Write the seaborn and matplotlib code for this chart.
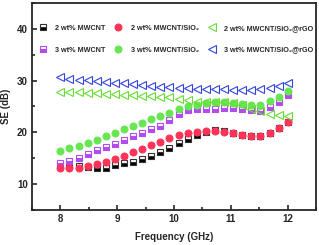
import matplotlib
matplotlib.use("Agg")
import matplotlib.pyplot as plt
import numpy as np
import pandas as pd
import seaborn as sns
from matplotlib.ticker import MultipleLocator

# frequency points (GHz)
freq = [8.00, 8.16, 8.32, 8.48, 8.64, 8.80, 8.96, 9.12, 9.28, 9.44, 9.60, 9.76, 9.92,
        10.08, 10.24, 10.40, 10.56, 10.72, 10.88, 11.04, 11.20, 11.36, 11.52, 11.68, 11.84, 12.00]

# SE values (dB)
mwcnt_2 = [13.9, 13.6, 13.45, 13.3, 13.2, 13.2, 13.6, 14.0, 14.35, 14.8, 15.35, 16.2, 16.9,
           17.9, 18.8, 19.5, 20.1, 20.4, 20.2, 19.8, 19.5, 19.3, 19.3, 19.8, 20.8, 21.9]
mwcnt_3 = [14.0, 14.4, 15.0, 15.8, 16.5, 17.1, 17.8, 18.5, 19.2, 19.9, 20.6, 21.3, 22.4,
           23.6, 24.3, 24.6, 24.6, 24.6, 24.65, 24.7, 24.6, 24.25, 24.1, 24.8, 25.9, 27.2]
sio2_2 = [13.1, 13.1, 13.2, 13.55, 13.9, 14.2, 14.85, 15.5, 16.15, 16.8, 17.6, 18.2, 18.9,
          19.4, 19.8, 20.1, 20.2, 20.2, 20.0, 19.8, 19.5, 19.25, 19.25, 19.9, 20.9, 22.0]
sio2_3 = [16.45, 16.9, 17.45, 18.0, 18.6, 19.25, 19.9, 20.55, 21.2, 21.85, 22.5, 23.1, 23.8,
          24.5, 25.0, 25.3, 25.6, 25.85, 25.9, 25.75, 25.55, 25.35, 25.35, 26.0, 26.85, 27.9]
rgo_2 = [27.8, 27.75, 27.7, 27.65, 27.6, 27.5, 27.4, 27.3, 27.2, 27.1, 27.0, 26.9, 26.8,
         26.5, 26.2, 25.9, 25.9, 25.9, 25.8, 25.6, 25.2, 24.6, 24.1, 23.6, 23.3, 23.2]
rgo_3 = [30.6, 30.4, 30.2, 30.1, 29.9, 29.75, 29.6, 29.45, 29.3, 29.15, 29.0, 28.85, 28.75,
         28.6, 28.5, 28.4, 28.35, 28.3, 28.3, 28.25, 28.2, 28.2, 28.3, 28.5, 28.9, 29.5]

labels = ["2 wt% MWCNT", "3 wt% MWCNT",
          "2 wt% MWCNT/SiO\u2082", "3 wt% MWCNT/SiO\u2082",
          "2 wt% MWCNT/SiO\u2082@rGO", "3 wt% MWCNT/SiO\u2082@rGO"]
series = [mwcnt_2, mwcnt_3, sio2_2, sio2_3, rgo_2, rgo_3]

styles = [
    dict(marker="s", color="black", fillstyle="bottom", markerfacecoloralt="white",
         markeredgecolor="#333333", markersize=4.5, markeredgewidth=0.8),
    dict(marker="s", color="#b04cf0", fillstyle="bottom", markerfacecoloralt="white",
         markeredgecolor="#b04cf0", markersize=4.5, markeredgewidth=0.8),
    dict(marker="o", color="#ff3358", markeredgecolor="#ff3358", markersize=5),
    dict(marker="o", color="#66e650", markeredgecolor="#66e650", markersize=5),
    dict(marker="<", color="#66dd33", markerfacecolor="none", markeredgecolor="#66dd33",
         markersize=5.5, markeredgewidth=0.8),
    dict(marker="<", color="#3344dd", markerfacecolor="none", markeredgecolor="#3344dd",
         markersize=5.5, markeredgewidth=0.8),
]

sns.set_style("ticks")
plt.rcParams["font.family"] = ["Liberation Sans", "DejaVu Sans"]
plt.rcParams["font.weight"] = "bold"

fig = plt.figure(figsize=(3.19, 2.45), dpi=100)
ax = fig.add_axes([0.100, 0.143, 0.891, 0.845])

for lab, vals, st in zip(labels, series, styles):
    df = pd.DataFrame({"f": freq, "se": vals})
    sns.lineplot(data=df, x="f", y="se", ax=ax, linestyle="", label=lab, **st)

ax.set_xlim(7.5, 12.5)
ax.set_ylim(5, 45)
ax.xaxis.set_major_locator(MultipleLocator(1))
ax.xaxis.set_minor_locator(MultipleLocator(0.5))
ax.yaxis.set_major_locator(MultipleLocator(10))
ax.yaxis.set_minor_locator(MultipleLocator(5))
ax.tick_params(which="both", direction="in", width=1.2, labelsize=7, pad=3)
ax.tick_params(which="major", length=3.5)
ax.tick_params(which="minor", length=2)
for sp in ax.spines.values():
    sp.set_linewidth(1.3)
    sp.set_visible(True)

ax.set_xlabel("Frequency (GHz)", fontsize=7, fontweight="bold", labelpad=6)
ax.set_ylabel("SE (dB)", fontsize=7, fontweight="bold", labelpad=4)
for t in ax.get_xticklabels() + ax.get_yticklabels():
    t.set_fontweight("bold")

ax.legend(loc="upper left", bbox_to_anchor=(0.0, 0.925), ncol=3, frameon=False,
          fontsize=5.2, handlelength=1.2, handletextpad=1.1, columnspacing=1.2,
          labelspacing=2.0, borderaxespad=0.5)

fig.savefig("out.png", dpi=100)
